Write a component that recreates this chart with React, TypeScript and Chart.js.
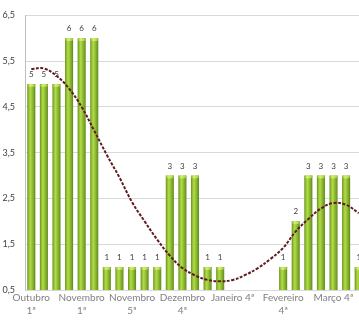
import React, { useEffect, useRef } from "react";
import { Chart, registerables } from "chart.js";

Chart.register(...registerables);

// Weekly categories (month + week of the month)
const categories = [
  "Outubro 1ª", "Outubro 2ª", "Outubro 3ª", "Outubro 4ª",
  "Novembro 1ª", "Novembro 2ª", "Novembro 3ª", "Novembro 4ª", "Novembro 5ª",
  "Dezembro 1ª", "Dezembro 2ª", "Dezembro 3ª", "Dezembro 4ª",
  "Janeiro 1ª", "Janeiro 2ª", "Janeiro 3ª", "Janeiro 4ª",
  "Fevereiro 1ª", "Fevereiro 2ª", "Fevereiro 3ª", "Fevereiro 4ª",
  "Março 1ª", "Março 2ª", "Março 3ª", "Março 4ª", "Março 5ª",
  "Abril 1ª",
];

// Weekly counts (null = no record that week)
const values: (number | null)[] = [
  5, 5, 5, 6, 6, 6, 1, 1, 1, 1, 1, 3, 3, 3, 1, 1,
  null, null, null, null, 1, 2, 3, 3, 3, 3, 1,
];

// Polynomial trend line, sampled per week
const trend = [
  5.33, 5.34, 5.18, 4.9, 4.5, 3.98, 3.45, 2.96, 2.42, 2.0, 1.6, 1.25, 0.98,
  0.82, 0.72, 0.69, 0.72, 0.83, 0.98, 1.18, 1.42, 1.78, 2.05, 2.28, 2.4, 2.36, 2.18,
];

const yTicks = [0.5, 1.5, 2.5, 3.5, 4.5, 5.5, 6.5];

const W = 365;
const H = 324;
const LABEL_EVERY = 4;
const FONT = "Lato, 'Open Sans', sans-serif";

function barFill(ctx: any) {
  const chart = ctx.chart;
  const xs = chart.scales && chart.scales.x;
  if (!xs || ctx.type !== "data") return "#8cbf32";
  const cx = xs.getPixelForValue(ctx.dataIndex);
  if (!Number.isFinite(cx)) return "#8cbf32";
  const half = 4.2;
  const g = chart.ctx.createLinearGradient(cx - half, 0, cx + half, 0);
  g.addColorStop(0, "#5f8a18");
  g.addColorStop(0.18, "#8cbb2c");
  g.addColorStop(0.38, "#b4da4c");
  g.addColorStop(0.6, "#93c234");
  g.addColorStop(0.85, "#739f22");
  g.addColorStop(1, "#58801a");
  return g;
}

// Light rounded cap at the top of every bar
const barCaps = {
  id: "barCaps",
  afterDatasetDraw(chart: any, args: any) {
    if (args.index !== 0) return;
    const c = chart.ctx;
    c.save();
    args.meta.data.forEach((el: any, i: number) => {
      if (values[i] == null) return;
      const { x, y, width } = el.getProps(["x", "y", "width"], true);
      if (![x, y, width].every(Number.isFinite)) return;
      const g = c.createLinearGradient(x - width / 2, 0, x + width / 2, 0);
      g.addColorStop(0, "#8fbd2e");
      g.addColorStop(0.4, "#d8f07a");
      g.addColorStop(1, "#9cc83a");
      c.fillStyle = g;
      c.beginPath();
      c.ellipse(x, y + 1.2, width / 2, 1.6, 0, 0, Math.PI * 2);
      c.fill();
    });
    c.restore();
  },
};

// Value labels above the bars
const valueLabels = {
  id: "valueLabels",
  afterDatasetsDraw(chart: any) {
    const meta = chart.getDatasetMeta(0);
    const c = chart.ctx;
    c.save();
    c.font = `8px ${FONT}`;
    c.fillStyle = "#404040";
    c.textAlign = "center";
    c.textBaseline = "middle";
    meta.data.forEach((el: any, i: number) => {
      const v = values[i];
      if (v == null) return;
      const { x, y } = el.getProps(["x", "y"], true);
      c.fillText(String(v), x, y - 9.5);
    });
    c.restore();
  },
};

export default function App() {
  const ref = useRef<HTMLCanvasElement>(null);

  useEffect(() => {
    document.body.style.margin = "0";
    document.body.style.overflow = "hidden";
    const canvas = ref.current!;
    const chart = new Chart(canvas, {
      type: "bar",
      data: {
        labels: categories,
        datasets: [
          {
            type: "bar",
            data: values,
            backgroundColor: barFill,
            borderWidth: 0,
            categoryPercentage: 1,
            barPercentage: 0.64,
            order: 2,
          } as any,
          {
            type: "line",
            data: trend,
            borderColor: "#5e1c20",
            borderWidth: 2,
            borderDash: [3, 1.5],
            pointRadius: 0,
            tension: 0.4,
            fill: false,
            order: 1,
          } as any,
        ],
      },
      options: {
        responsive: false,
        animation: false,
        devicePixelRatio: 1,
        layout: { padding: { top: 14, left: 0, right: 0, bottom: 0 } },
        plugins: {
          legend: { display: false },
          tooltip: { enabled: false },
        },
        scales: {
          x: {
            grid: { display: false, drawTicks: false, tickLength: 0 },
            border: { display: false },
            ticks: {
              autoSkip: false,
              maxRotation: 0,
              minRotation: 0,
              padding: 1,
              color: "#808080",
              font: { family: FONT, size: 10, lineHeight: 1.3 },
              callback: function (this: any, _v: any, index: number) {
                if (index % LABEL_EVERY !== 0) return "";
                const text = categories[index];
                const c = this.chart.ctx;
                c.save();
                c.font = `10px ${FONT}`;
                const w = c.measureText(text).width;
                c.restore();
                if (w > 44) {
                  const k = text.lastIndexOf(" ");
                  return [text.slice(0, k), text.slice(k + 1)];
                }
                return text;
              },
            },
            afterFit: (s: any) => {
              s.height = 34;
            },
          },
          y: {
            min: yTicks[0],
            max: yTicks[yTicks.length - 1],
            afterBuildTicks: (s: any) => {
              s.ticks = yTicks.map((v) => ({ value: v }));
            },
            ticks: {
              padding: 10,
              color: "#404040",
              font: { family: FONT, size: 9 },
              callback: (v: any) => Number(v).toFixed(1).replace(".", ","),
            },
            grid: { color: "#d9d9d9", drawTicks: false },
            border: { display: true, color: "#bfbfbf" },
            afterFit: (s: any) => {
              s.width = 25;
            },
          },
        },
      },
      plugins: [barCaps, valueLabels],
    });
    return () => chart.destroy();
  }, []);

  return (
    <div style={{ width: 359, height: 324, overflow: "hidden", background: "#fff" }}>
      <canvas ref={ref} width={W} height={H} style={{ display: "block", width: W, height: H }} />
    </div>
  );
}
